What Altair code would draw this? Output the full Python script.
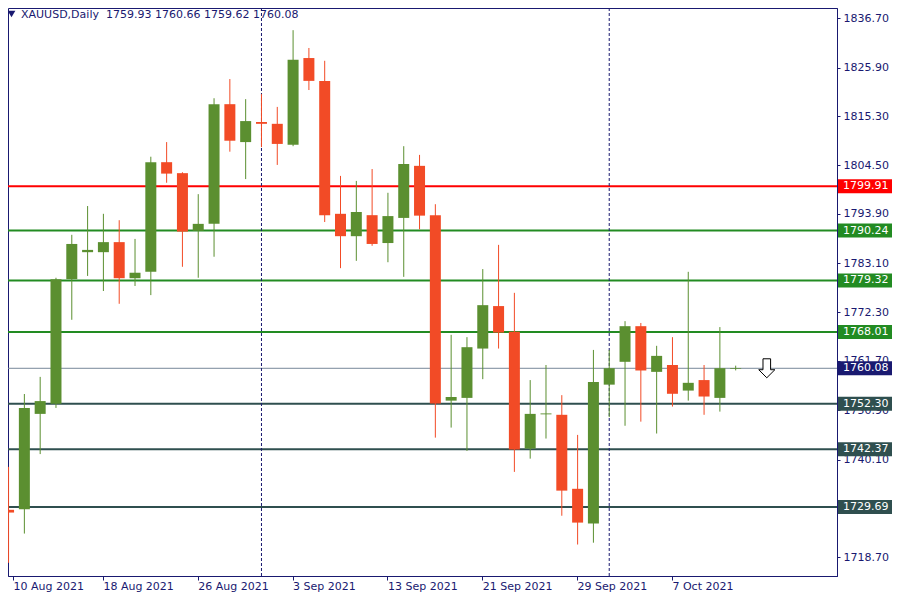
import json
import altair as alt
import pandas as pd

# ---------------- data ----------------
dates = ["10 Aug", "11 Aug", "12 Aug", "13 Aug", "16 Aug", "17 Aug", "18 Aug", "19 Aug",
         "20 Aug", "23 Aug", "24 Aug", "25 Aug", "26 Aug", "27 Aug", "30 Aug", "31 Aug",
         "1 Sep", "2 Sep", "3 Sep", "6 Sep", "7 Sep", "8 Sep", "9 Sep", "10 Sep",
         "13 Sep", "14 Sep", "15 Sep", "16 Sep", "17 Sep", "20 Sep", "21 Sep", "22 Sep",
         "23 Sep", "24 Sep", "27 Sep", "28 Sep", "29 Sep", "30 Sep", "1 Oct", "4 Oct",
         "5 Oct", "6 Oct", "7 Oct", "8 Oct", "11 Oct", "12 Oct", "13 Oct"]

opens = [1729.1, 1729.2, 1750.1, 1752.3, 1779.6, 1785.5, 1785.5, 1787.7,
         1779.8, 1781.2, 1805.2, 1802.8, 1790.2, 1791.7, 1817.9, 1809.6,
         1814.0, 1813.6, 1809.0, 1828.0, 1823.0, 1793.9, 1789.0, 1793.6,
         1787.5, 1793.0, 1804.4, 1793.6, 1753.0, 1753.6, 1764.4, 1773.7,
         1768.1, 1742.5, 1750.0, 1749.9, 1733.7, 1726.1, 1756.5, 1761.5,
         1769.3, 1759.3, 1760.8, 1755.2, 1757.5, 1753.6, 1759.93]
highs = [1738.5, 1754.45, 1758.2, 1779.9, 1789.3, 1795.6, 1793.9, 1792.5,
         1788.4, 1806.4, 1809.6, 1803.0, 1798.2, 1819.2, 1823.4, 1819.0,
         1820.1, 1817.3, 1834.1, 1830.2, 1827.4, 1802.2, 1801.1, 1803.7,
         1798.5, 1808.7, 1806.8, 1796.0, 1767.4, 1766.9, 1781.8, 1787.1,
         1776.6, 1757.5, 1760.8, 1754.2, 1745.5, 1764.1, 1764.1, 1770.4,
         1770.0, 1765.0, 1766.9, 1781.2, 1760.8, 1769.1, 1760.66]
lows = [1717.5, 1723.9, 1741.3, 1751.4, 1770.7, 1780.3, 1777.0, 1774.2,
        1778.1, 1776.1, 1800.7, 1782.3, 1779.9, 1784.5, 1807.5, 1801.5,
        1808.5, 1804.6, 1808.7, 1821.0, 1792.1, 1782.0, 1783.6, 1786.9,
        1783.3, 1780.1, 1790.5, 1744.9, 1747.1, 1742.0, 1757.7, 1764.4,
        1737.4, 1740.3, 1744.7, 1727.8, 1721.5, 1721.9, 1749.4, 1747.5,
        1748.4, 1745.8, 1751.7, 1753.0, 1749.9, 1750.6, 1759.62]
closes = [1728.5, 1751.4, 1752.9, 1779.6, 1787.3, 1786.0, 1787.7, 1779.8,
          1781.0, 1805.2, 1802.7, 1790.0, 1791.7, 1817.9, 1809.9, 1814.2,
          1813.6, 1809.2, 1827.6, 1823.0, 1793.6, 1789.0, 1794.3, 1787.3,
          1793.4, 1804.8, 1793.5, 1752.4, 1753.8, 1764.7, 1773.9, 1767.9,
          1742.3, 1750.1, 1750.2, 1733.3, 1726.3, 1757.1, 1760.1, 1769.3,
          1759.6, 1762.8, 1754.5, 1756.9, 1753.9, 1760.1, 1760.08]

tick_index = [0, 6, 12, 18, 24, 30, 36, 42]
tick_labels = ["10 Aug 2021", "18 Aug 2021", "26 Aug 2021", "3 Sep 2021",
               "13 Sep 2021", "21 Sep 2021", "29 Sep 2021", "7 Oct 2021"]

price_ticks = [1836.70, 1825.90, 1815.30, 1804.50, 1793.90, 1783.10,
               1772.30, 1761.70, 1750.90, 1740.10, 1729.40, 1718.70]

levels = [1799.91, 1790.24, 1779.32, 1768.01, 1752.30, 1742.37, 1729.69]
level_kind = ["red", "green", "green", "green", "slate", "slate", "slate"]

month_breaks = [16, 38]
signal_index = [48]

symbol_name = "XAUUSD,Daily"

# ---------------- layout / style ----------------
W, H = 829, 568
X_DOMAIN = [0.3125, 52.125]
Y_DOMAIN = [1714.61, 1838.955]
NAVY = "#191970"
UP = "#5B8F30"
DOWN = "#F24B26"
FONT = "DejaVu Sans"
KIND_COLOR = {"red": "#FF0000", "green": "#228B22", "slate": "#2F4F4F"}
CUR_LINE = "#778899"

candles = pd.DataFrame({"i": list(range(len(opens))), "date": dates,
                        "o": opens, "h": highs, "l": lows, "c": closes})
last_close = closes[-1]

lv = pd.DataFrame({"price": levels, "col": [KIND_COLOR[k] for k in level_kind]})
boxes = pd.concat([lv, pd.DataFrame({"price": [last_close], "col": [NAVY]})],
                  ignore_index=True)

xscale = alt.Scale(domain=X_DOMAIN, nice=False, zero=False)
yscale = alt.Scale(domain=Y_DOMAIN, nice=False, zero=False)

x_vals = [max(v, X_DOMAIN[0]) for v in tick_index]
label_expr = f"{json.dumps(tick_labels)}[indexof({json.dumps(tick_index)}, round(datum.value))]"

xax = alt.Axis(values=x_vals, labelExpr=label_expr, orient="bottom", title=None, grid=False,
               domainColor=NAVY, tickColor=NAVY, tickSize=4, labelColor=NAVY,
               labelFont=FONT, labelFontSize=11, labelAlign="left", labelBaseline="top",
               labelPadding=0, labelFlush=False, labelOverlap=False)
yax = alt.Axis(values=price_ticks, format=".2f", orient="right", title=None, grid=False,
               domainColor=NAVY, tickColor=NAVY, tickSize=3, labelColor=NAVY,
               labelFont=FONT, labelFontSize=11, labelPadding=3,
               labelFlush=False, labelOverlap=False)

updown = alt.condition("datum.c >= datum.o", alt.value(UP), alt.value(DOWN))

level_lines = alt.Chart(lv).mark_rule(strokeWidth=2).encode(
    y=alt.Y("price:Q", scale=yscale, axis=yax),
    color=alt.Color("col:N", scale=None),
)

cur_line = alt.Chart(pd.DataFrame({"price": [last_close]})).mark_rule(
    strokeWidth=1, color=CUR_LINE
).encode(y=alt.Y("price:Q", scale=yscale, axis=yax))

breaks = alt.Chart(pd.DataFrame({"i": month_breaks})).mark_rule(
    strokeWidth=1, color=NAVY, strokeDash=[3, 2], xOffset=0.5
).encode(x=alt.X("i:Q", scale=xscale, axis=xax))

wicks = alt.Chart(candles).mark_rule(strokeWidth=1, xOffset=0.5, clip=True).encode(
    x=alt.X("i:Q", scale=xscale, axis=xax),
    y=alt.Y("l:Q", scale=yscale, axis=yax),
    y2="h:Q",
    color=updown,
)

bodies = alt.Chart(candles).mark_bar(size=11, xOffset=0.5, clip=True).encode(
    x=alt.X("i:Q", scale=xscale, axis=xax),
    y=alt.Y("o:Q", scale=yscale, axis=yax),
    y2="c:Q",
    color=updown,
)

arrow_shape = "M-0.4,-1L0.4,-1L0.4,0.15L0.85,0.15L0,1L-0.85,0.15L-0.4,0.15Z"
arrow = alt.Chart(pd.DataFrame({"i": signal_index, "price": [last_close]})).mark_point(
    shape=arrow_shape, size=361, filled=True, fill="white", stroke="black",
    strokeWidth=1, opacity=1
).encode(
    x=alt.X("i:Q", scale=xscale, axis=xax),
    y=alt.Y("price:Q", scale=yscale, axis=yax),
)

box_marks = alt.Chart(boxes).mark_tick(thickness=14, size=54, opacity=1).encode(
    x=alt.value(W + 28),
    y=alt.Y("price:Q", scale=yscale, axis=yax),
    color=alt.Color("col:N", scale=None),
)

box_text = alt.Chart(boxes).mark_text(
    align="left", baseline="middle", color="white", font=FONT, fontSize=11
).encode(
    x=alt.value(W + 6),
    y=alt.Y("price:Q", scale=yscale, axis=yax),
    text=alt.Text("price:Q", format=".2f"),
)

header_text = "{}\u00a0\u00a0{:.2f} {:.2f} {:.2f} {:.2f}".format(
    symbol_name, opens[-1], highs[-1], lows[-1], closes[-1])
header = alt.Chart(pd.DataFrame({"t": [header_text]})).mark_text(
    align="left", baseline="middle", color=NAVY, font=FONT, fontSize=11
).encode(x=alt.value(13), y=alt.value(6.5), text="t:N")

tri = alt.Chart(pd.DataFrame({"t": [0]})).mark_point(
    shape="triangle-down", size=60, filled=True, color=NAVY, opacity=1
).encode(x=alt.value(3.5), y=alt.value(6))

chart = alt.layer(
    level_lines, cur_line, breaks, wicks, bodies, arrow, box_marks, box_text, header, tri
).properties(
    width=W, height=H,
    autosize=alt.AutoSizeParams(type="none"),
    padding={"left": 0, "top": 0, "right": 55, "bottom": 16},
    background="white",
).configure_view(
    stroke=NAVY, strokeWidth=1
)

chart.save("out.html", embed_options={"renderer": "svg", "actions": False})
